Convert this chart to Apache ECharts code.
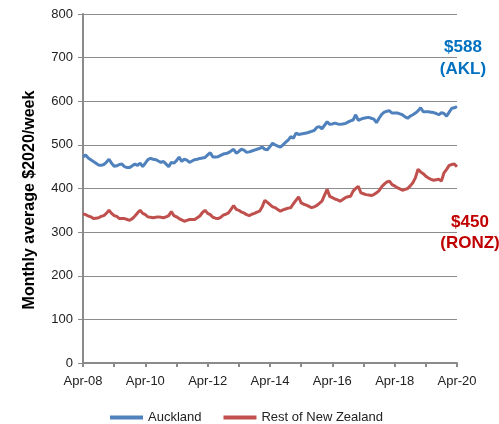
<!DOCTYPE html>
<html>
<head>
<meta charset="utf-8">
<script src="https://cdn.jsdelivr.net/npm/echarts@6/dist/echarts.min.js"></script>
<style>
  html, body { margin: 0; padding: 0; background: #fff; }
  #chart { width: 499px; height: 424px; }
</style>
</head>
<body>
<div id="chart"></div>
<script>
// monthly, Apr-08 .. Apr-20
const monthNames = ['Jan', 'Feb', 'Mar', 'Apr', 'May', 'Jun', 'Jul', 'Aug', 'Sep', 'Oct', 'Nov', 'Dec']
const categories = []
for (let i = 0; i <= 144; i++) {
  const m = (3 + i) % 12
  const y = 8 + Math.floor((3 + i) / 12)
  categories.push(monthNames[m] + '-' + String(y).padStart(2, '0'))
}

const yTicks = [0, 100, 200, 300, 400, 500, 600, 700, 800]

// Auckland
const aucklandValues = [
  472, 477, 470, 466, 462, 458, 454, 453, 455, 460, 467, 458,
  451, 452, 455, 456, 450, 448, 448, 452, 456, 453, 458, 450,
  458, 466, 469, 467, 466, 463, 460, 462, 456, 450, 460, 458,
  464, 472, 462, 467, 465, 460, 463, 466, 467, 469, 470, 471,
  477, 482, 472, 472, 473, 476, 479, 480, 482, 486, 490, 481,
  485, 490, 488, 483, 484, 486, 488, 490, 492, 495, 490, 489,
  496, 504, 500, 497, 495, 500, 506, 511, 519, 515, 527, 524,
  525, 526, 527, 529, 531, 533, 540, 542, 537, 545, 553, 547,
  548, 550, 548, 547, 548, 549, 552, 555, 557, 569, 556, 559,
  561, 562, 563, 561, 559, 551, 561, 570, 575, 577, 578, 573,
  573, 573, 571, 569, 564, 561, 566, 569, 573, 578, 585, 576,
  576, 576, 575, 574, 572, 569, 574, 572, 566, 575, 584, 585,
  588
]

// Rest of New Zealand
const restValues = [
  342, 340, 337, 335, 331, 332, 333, 336, 338, 343, 350, 343,
  338, 336, 331, 331, 331, 329, 327, 331, 337, 344, 350, 343,
  340, 335, 334, 333, 334, 335, 334, 333, 335, 338, 347, 338,
  335, 331, 328, 325, 327, 329, 329, 329, 333, 337, 345, 350,
  343, 340, 334, 332, 331, 334, 339, 341, 344, 352, 361, 352,
  350, 346, 344, 340, 338, 341, 343, 346, 348, 358, 373, 368,
  363, 358, 356, 352, 348, 351, 353, 355, 356, 365, 373, 381,
  367, 364, 362, 359, 356, 358, 361, 366, 371, 385, 398, 382,
  379, 376, 374, 371, 375, 379, 381, 382, 394, 400, 405, 390,
  388, 386, 385, 384, 386, 390, 395, 404, 410, 415, 417, 409,
  406, 402, 399, 396, 398, 400, 406, 413, 425, 444, 438, 434,
  428, 424, 421, 419, 420, 421, 417, 436, 444, 453, 455, 456,
  450
]

const chart = echarts.init(document.getElementById('chart'))
const font = 'Liberation Sans, Arial, sans-serif'

chart.setOption({
  animation: false,
  textStyle: { fontFamily: font },
  grid: { left: 83, right: 42, top: 14, bottom: 61, containLabel: false },
  legend: {
    top: 406,
    left: 105,
    itemWidth: 33,
    itemHeight: 4,
    itemGap: 22,
    icon: 'rect',
    textStyle: { fontSize: 13, color: '#222', fontFamily: font },
    data: ['Auckland', 'Rest of New Zealand']
  },
  xAxis: {
    type: 'category',
    data: categories,
    boundaryGap: false,
    axisLine: { lineStyle: { color: '#8a8a8a', width: 2 } },
    axisTick: { interval: 11, length: 4, lineStyle: { color: '#8a8a8a', width: 2 } },
    axisLabel: { interval: 23, color: '#222', fontSize: 13, margin: 12 },
    splitLine: { show: false }
  },
  yAxis: {
    type: 'value',
    min: yTicks[0],
    max: yTicks[yTicks.length - 1],
    interval: 100,
    axisLine: { show: true, lineStyle: { color: '#8a8a8a', width: 2 } },
    axisTick: { show: true, length: 5, lineStyle: { color: '#8a8a8a' } },
    axisLabel: { color: '#222', fontSize: 13, margin: 10 },
    splitLine: { lineStyle: { color: '#8c8c8c', width: 1 } }
  },
  series: [
    {
      name: 'Auckland',
      type: 'line',
      data: aucklandValues,
      symbol: 'none',
      lineStyle: { color: '#4F81BD', width: 3 },
      itemStyle: { color: '#4F81BD' }
    },
    {
      name: 'Rest of New Zealand',
      type: 'line',
      data: restValues,
      symbol: 'none',
      lineStyle: { color: '#C0504D', width: 3 },
      itemStyle: { color: '#C0504D' }
    }
  ],
  graphic: [
    // y axis title
    { type: 'text', x: 30, y: 200, rotation: Math.PI / 2, style: { text: 'Monthly average $2020/week', fill: '#000', font: 'bold 16px ' + font, textAlign: 'center', textVerticalAlign: 'middle' } },
    { type: 'text', x: 463, y: 47, style: { text: '$588', fill: '#0070C0', font: 'bold 17px ' + font, textAlign: 'center', textVerticalAlign: 'middle' } },
    { type: 'text', x: 463, y: 69, style: { text: '(AKL)', fill: '#0070C0', font: 'bold 17px ' + font, textAlign: 'center', textVerticalAlign: 'middle' } },
    { type: 'text', x: 470, y: 222, style: { text: '$450', fill: '#C00000', font: 'bold 17px ' + font, textAlign: 'center', textVerticalAlign: 'middle' } },
    { type: 'text', x: 470, y: 243, style: { text: '(RONZ)', fill: '#C00000', font: 'bold 17px ' + font, textAlign: 'center', textVerticalAlign: 'middle' } }
  ]
})
</script>
</body>
</html>
